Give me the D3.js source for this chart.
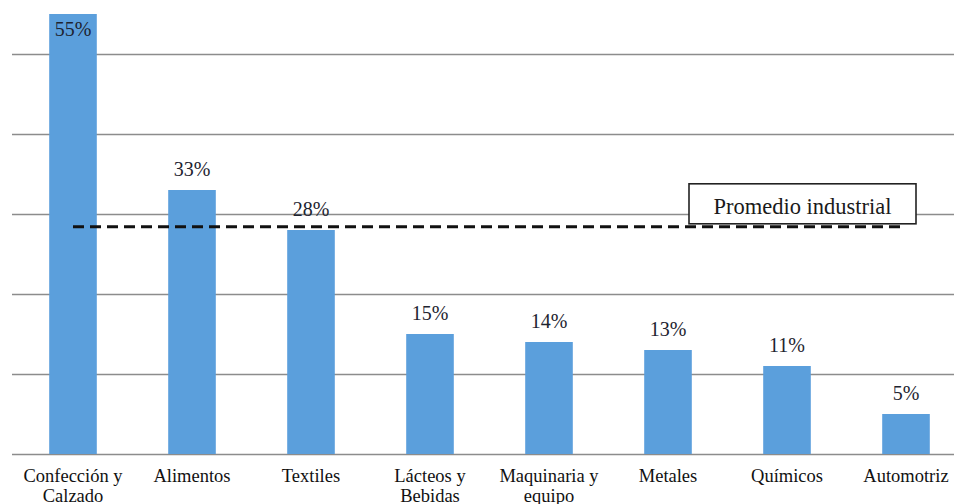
<!DOCTYPE html>
<html><head><meta charset="utf-8"><script src="https://cdn.jsdelivr.net/npm/d3@7"></script></head>
<body style="margin:0">
<svg id="chart" width="954" height="504"></svg>
<script>
// ---- Data ----
const categories = [
  ["Confección y", "Calzado"],
  ["Alimentos"],
  ["Textiles"],
  ["Lácteos y", "Bebidas"],
  ["Maquinaria y", "equipo"],
  ["Metales"],
  ["Químicos"],
  ["Automotriz"]
];
const values = [55, 33, 28, 15, 14, 13, 11, 5];
const valueLabels = ["55%", "33%", "28%", "15%", "14%", "13%", "11%", "5%"];
const gridTicks = [0, 10, 20, 30, 40, 50];
const averageValue = 28.4;
const averageLabel = "Promedio industrial";

// ---- Layout ----
const svg = d3.select("#chart");
const plotLeft = 12, plotRight = 954;
const keys = categories.map(c => c.join(" "));
const serif = '"Times New Roman"';

const x = d3.scaleBand()
  .domain(keys)
  .range([13.5, 965.5])
  .paddingInner(0.6)
  .paddingOuter(0.3);

const y = d3.scaleLinear()
  .domain([0, 55])
  .range([454, 14]);

// gridlines
const grid = svg.append("g")
  .attr("transform", `translate(${plotLeft},0)`)
  .call(d3.axisLeft(y).tickValues(gridTicks).tickSize(-(plotRight - plotLeft)).tickFormat(""));
grid.attr("font-family", null).attr("font-size", null);
grid.select(".domain").remove();
grid.selectAll(".tick text").remove();
grid.selectAll(".tick line").attr("stroke", "#8c8c8c").attr("stroke-width", 1.3);

// bars
svg.append("g").selectAll("rect")
  .data(values)
  .join("rect")
  .attr("x", (d, i) => x(keys[i]))
  .attr("y", d => y(d))
  .attr("width", x.bandwidth())
  .attr("height", d => y(0) - y(d))
  .attr("fill", "#5b9fdc");

// value labels
svg.selectAll("text.val")
  .data(values)
  .join("text")
  .attr("class", "val")
  .attr("x", (d, i) => x(keys[i]) + x.bandwidth() / 2)
  .attr("y", d => (y(d) - 14 < 22 ? y(d) + 22 : y(d) - 14))
  .attr("text-anchor", "middle")
  .style("font-family", serif)
  .style("font-size", "20px")
  .style("fill", "#1e2430")
  .text((d, i) => valueLabels[i]);

// category labels
categories.forEach((lines, i) => {
  const cx = x(keys[i]) + x.bandwidth() / 2;
  lines.forEach((ln, j) => {
    svg.append("text")
      .attr("x", cx)
      .attr("y", 482 + j * 20)
      .attr("text-anchor", "middle")
      .style("font-family", serif)
      .style("font-size", "18.5px")
      .style("fill", "#111")
      .text(ln);
  });
});

// average dashed line
const avgX1 = x(keys[0]) + x.bandwidth() / 2;
const avgX2 = x(keys[keys.length - 1]) + x.bandwidth() / 2;
svg.append("line")
  .attr("x1", avgX1)
  .attr("x2", avgX2)
  .attr("y1", y(averageValue))
  .attr("y2", y(averageValue))
  .attr("stroke", "#111")
  .attr("stroke-width", 3)
  .attr("stroke-dasharray", "11,6");

// average label box
const boxW = 227, boxH = 40;
const boxCx = 802.5;
const boxBottom = y(averageValue) - 3;
svg.append("rect")
  .attr("x", boxCx - boxW / 2)
  .attr("y", boxBottom - boxH)
  .attr("width", boxW)
  .attr("height", boxH)
  .attr("fill", "#ffffff")
  .attr("stroke", "#222")
  .attr("stroke-width", 1.6);
svg.append("text")
  .attr("x", boxCx)
  .attr("y", boxBottom - 10)
  .attr("text-anchor", "middle")
  .style("font-family", serif)
  .style("font-size", "22.5px")
  .style("fill", "#1a1a1a")
  .text(averageLabel);
</script>
</body>
</html>
